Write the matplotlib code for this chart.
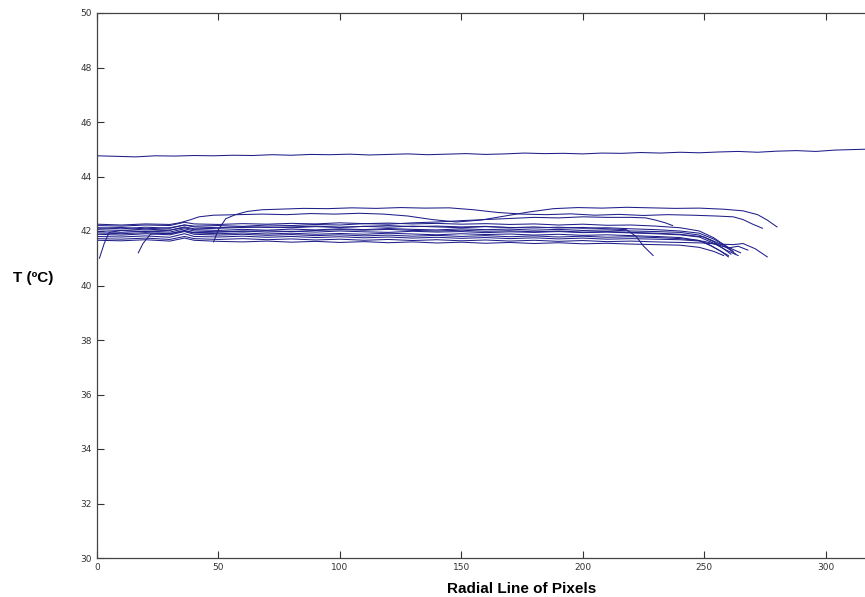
import matplotlib
matplotlib.use("Agg")
import matplotlib.pyplot as plt

# hand-read profiles (x = pixel index along radial line, y = temperature in C)
top_x = [0, 8, 16, 24, 32, 40, 48, 56, 64, 72, 80, 88, 96, 104, 112, 120, 128, 136, 144, 152,
         160, 168, 176, 184, 192, 200, 208, 216, 224, 232, 240, 248, 256, 264, 272, 280, 288,
         296, 304, 312, 320]
top_y = [44.76, 44.74, 44.72, 44.76, 44.75, 44.77, 44.76, 44.78, 44.77, 44.80, 44.78, 44.81,
         44.80, 44.82, 44.79, 44.81, 44.83, 44.80, 44.82, 44.84, 44.81, 44.83, 44.86, 44.84,
         44.85, 44.83, 44.86, 44.85, 44.88, 44.86, 44.89, 44.87, 44.90, 44.92, 44.89, 44.93,
         44.95, 44.92, 44.97, 44.99, 45.01]

# upper profiles that climb out of the bundle
up1_x = [48, 50, 53, 57, 62, 68, 75, 85, 95, 105, 115, 125, 135, 145, 155, 165, 175, 185,
         195, 205, 215, 225, 235, 245, 255, 262, 266, 270, 274]
up1_y = [41.60, 42.05, 42.45, 42.60, 42.72, 42.78, 42.80, 42.83, 42.82, 42.85, 42.83, 42.86,
         42.84, 42.85, 42.78, 42.68, 42.62, 42.60, 42.63, 42.58, 42.61, 42.57, 42.60, 42.58,
         42.55, 42.52, 42.42, 42.25, 42.10]
up2_x = [0, 10, 20, 30, 34, 38, 42, 48, 58, 68, 78, 88, 98, 108, 118, 128, 138, 148, 158,
         168, 178, 188, 198, 208, 218, 228, 238, 248, 258, 266, 272, 276, 280]
up2_y = [42.25, 42.22, 42.26, 42.24, 42.30, 42.40, 42.52, 42.58, 42.60, 42.62, 42.60, 42.64,
         42.62, 42.65, 42.62, 42.55, 42.42, 42.33, 42.40, 42.55, 42.70, 42.82, 42.86, 42.84,
         42.87, 42.85, 42.83, 42.84, 42.80, 42.74, 42.60, 42.40, 42.15]
up3_x = [0, 10, 20, 30, 36, 40, 50, 60, 70, 80, 90, 100, 110, 120, 130, 140, 150, 160,
         170, 180, 190, 200, 210, 220, 226, 230, 234, 237]
up3_y = [42.10, 42.13, 42.08, 42.12, 42.22, 42.18, 42.20, 42.17, 42.22, 42.20, 42.24, 42.22,
         42.27, 42.25, 42.30, 42.33, 42.38, 42.42, 42.46, 42.50, 42.48, 42.52, 42.50, 42.50,
         42.48, 42.40, 42.30, 42.20]

# main bundle
b1_x = [0, 10, 20, 30, 36, 40, 50, 60, 70, 80, 90, 100, 110, 120, 130, 140, 150, 160, 170,
        180, 190, 200, 210, 220, 230, 240, 248, 254, 258, 262]
b1_y = [42.20, 42.18, 42.22, 42.20, 42.32, 42.26, 42.24, 42.27, 42.25, 42.28, 42.26, 42.30,
        42.27, 42.29, 42.26, 42.28, 42.25, 42.27, 42.24, 42.26, 42.22, 42.25, 42.21, 42.22,
        42.18, 42.12, 42.00, 41.75, 41.50, 41.25]
b2_x = [0, 10, 20, 30, 36, 40, 50, 60, 70, 80, 90, 100, 110, 120, 130, 140, 150, 160, 170,
        180, 190, 200, 210, 218, 222, 225, 229]
b2_y = [42.12, 42.08, 42.14, 42.10, 42.22, 42.15, 42.12, 42.16, 42.13, 42.15, 42.18, 42.14,
        42.17, 42.20, 42.16, 42.18, 42.15, 42.17, 42.12, 42.15, 42.11, 42.13, 42.08, 42.05,
        41.80, 41.45, 41.10]
b3_x = [1, 3, 5, 10, 20, 30, 36, 40, 50, 60, 70, 80, 90, 100, 110, 120, 130, 140, 150, 160,
        170, 180, 190, 200, 210, 220, 230, 240, 248, 254, 258, 261]
b3_y = [41.00, 41.55, 41.95, 42.02, 41.98, 42.03, 42.12, 42.05, 42.02, 42.06, 42.03, 42.07,
        42.04, 42.08, 42.05, 42.09, 42.06, 42.04, 42.08, 42.05, 42.07, 42.03, 42.06, 42.02,
        42.04, 42.00, 41.98, 41.95, 41.85, 41.60, 41.35, 41.15]
b4_x = [0, 10, 20, 30, 36, 40, 50, 60, 70, 80, 90, 100, 110, 120, 130, 140, 150, 160, 170,
        180, 190, 200, 210, 220, 230, 240, 248, 254, 259, 264]
b4_y = [41.98, 41.95, 42.00, 41.96, 42.08, 42.00, 41.97, 42.00, 41.96, 41.99, 41.96, 42.00,
        41.97, 41.95, 41.99, 41.96, 41.98, 41.94, 41.97, 41.95, 41.98, 41.94, 41.96, 41.93,
        41.90, 41.86, 41.78, 41.55, 41.30, 41.10]
b5_x = [17, 19, 22, 25, 30, 36, 40, 50, 60, 70, 80, 90, 100, 110, 120, 130, 140, 150, 160,
        170, 180, 190, 200, 210, 220, 230, 240, 248, 253, 257, 260]
b5_y = [41.20, 41.55, 41.88, 41.92, 41.90, 42.00, 41.93, 41.90, 41.93, 41.89, 41.92, 41.88,
        41.91, 41.88, 41.92, 41.89, 41.86, 41.90, 41.87, 41.89, 41.85, 41.88, 41.84, 41.86,
        41.83, 41.80, 41.76, 41.65, 41.45, 41.25, 41.05]
b6_x = [0, 10, 20, 30, 36, 40, 50, 60, 70, 80, 90, 100, 110, 120, 130, 140, 150, 160, 170,
        180, 190, 200, 210, 220, 230, 240, 248, 252, 256, 260]
b6_y = [41.88, 41.85, 41.90, 41.86, 41.98, 41.88, 41.85, 41.88, 41.84, 41.87, 41.83, 41.86,
        41.82, 41.85, 41.81, 41.84, 41.80, 41.83, 41.79, 41.82, 41.78, 41.81, 41.77, 41.79,
        41.76, 41.72, 41.65, 41.50, 41.30, 41.10]
b7_x = [0, 10, 20, 30, 36, 40, 50, 60, 70, 80, 90, 100, 110, 120, 130, 140, 150, 160, 170,
        180, 190, 200, 210, 220, 230, 240, 250, 256, 260, 264, 268]
b7_y = [41.80, 41.78, 41.82, 41.77, 41.90, 41.80, 41.78, 41.81, 41.77, 41.80, 41.76, 41.79,
        41.75, 41.78, 41.74, 41.77, 41.73, 41.76, 41.72, 41.75, 41.71, 41.74, 41.70, 41.72,
        41.70, 41.68, 41.62, 41.48, 41.38, 41.44, 41.30]
b8_x = [0, 10, 20, 30, 36, 40, 50, 60, 70, 80, 90, 100, 110, 120, 130, 140, 150, 160, 170,
        180, 190, 200, 210, 220, 230, 240, 250, 256, 262, 266, 271, 276]
b8_y = [41.72, 41.70, 41.74, 41.69, 41.80, 41.72, 41.69, 41.72, 41.68, 41.71, 41.67, 41.70,
        41.66, 41.69, 41.65, 41.68, 41.64, 41.67, 41.63, 41.66, 41.62, 41.65, 41.61, 41.63,
        41.60, 41.58, 41.56, 41.52, 41.50, 41.54, 41.35, 41.05]
b9_x = [0, 10, 20, 30, 36, 40, 50, 60, 70, 80, 90, 100, 110, 120, 130, 140, 150, 160, 170,
        180, 190, 200, 210, 220, 230, 240, 248, 254, 258]
b9_y = [41.66, 41.64, 41.68, 41.63, 41.74, 41.66, 41.62, 41.60, 41.63, 41.59, 41.62, 41.58,
        41.61, 41.57, 41.60, 41.56, 41.59, 41.55, 41.58, 41.54, 41.57, 41.53, 41.55, 41.52,
        41.50, 41.48, 41.40, 41.25, 41.10]
b10_x = [0, 10, 20, 30, 36, 40, 50, 60, 70, 80, 90, 100, 110, 120, 130, 140, 150, 160, 170,
         180, 190, 200, 210, 220, 230, 240, 248, 254, 260, 265]
b10_y = [42.05, 42.02, 42.07, 42.03, 42.15, 42.08, 42.10, 42.13, 42.15, 42.12, 42.16, 42.13,
         42.17, 42.14, 42.18, 42.15, 42.12, 42.16, 42.13, 42.11, 42.14, 42.10, 42.12, 42.08,
         42.05, 42.00, 41.92, 41.70, 41.40, 41.20]
b11_x = [0, 10, 20, 30, 36, 40, 50, 60, 70, 80, 90, 100, 110, 120, 130, 140, 150, 160, 170,
         180, 190, 200, 210, 220, 230, 240, 250, 256, 260, 263]
b11_y = [41.93, 41.90, 41.94, 41.91, 42.02, 41.94, 41.96, 41.99, 42.01, 41.98, 42.02, 42.05,
         42.03, 42.06, 42.02, 42.00, 42.03, 41.99, 42.01, 41.97, 42.00, 41.96, 41.98, 41.95,
         41.92, 41.88, 41.78, 41.55, 41.35, 41.15]

series = [(top_x, top_y), (up1_x, up1_y), (up2_x, up2_y), (up3_x, up3_y),
          (b1_x, b1_y), (b2_x, b2_y), (b3_x, b3_y), (b4_x, b4_y), (b5_x, b5_y),
          (b6_x, b6_y), (b7_x, b7_y), (b8_x, b8_y), (b9_x, b9_y), (b10_x, b10_y),
          (b11_x, b11_y)]

xticks = [0, 50, 100, 150, 200, 250, 300]
yticks = [30, 32, 34, 36, 38, 40, 42, 44, 46, 48, 50]

fig = plt.figure(figsize=(8.65, 5.97), dpi=100)
# axis runs past the right edge of the picture (cropped figure)
ax = fig.add_axes([97 / 865, 39 / 597, 850 / 865, 545 / 597])

for xs, ys in series:
    ax.plot(xs, ys, color="#1f1f8a", lw=0.75)

ax.set_xlim(0, 350)
ax.set_ylim(30, 50)
ax.set_xticks(xticks)
ax.set_yticks(yticks)
ax.tick_params(direction="in", length=5, width=0.8, top=True, right=True,
               labelsize=6.5, labelcolor="#333333", color="#333333")
for s in ax.spines.values():
    s.set_color("#444444")
    s.set_linewidth(0.9)

ax.set_xlabel("Radial Line of Pixels", fontsize=11, fontweight="bold",
              family="Liberation Sans", labelpad=7)
fig.text(33 / 865, 1 - 278 / 597, "T (ºC)", fontsize=11, fontweight="bold",
         family="Liberation Sans", ha="center", va="center")

fig.savefig("out.png", dpi=100)
